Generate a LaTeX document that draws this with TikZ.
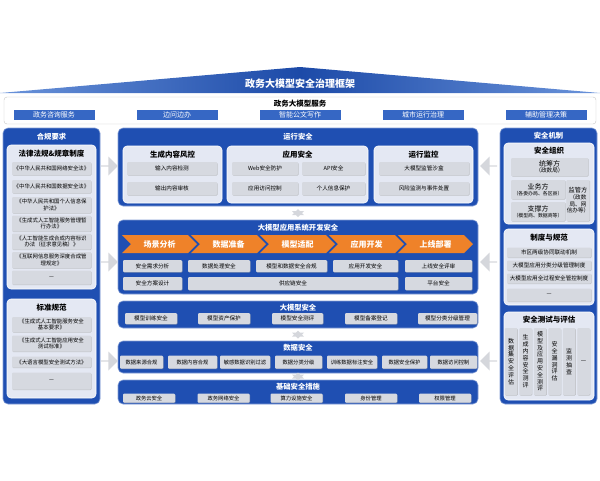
\documentclass[tikz,border=0pt]{standalone}
\usepackage{fontspec}
\setmainfont{Noto Sans CJK SC}
\usepackage{xcolor}
\usetikzlibrary{shapes.arrows,shapes.symbols,shadows}

\definecolor{panelblue}{HTML}{1F4FB2}
\definecolor{roofmid}{HTML}{1C4AA8}
\definecolor{roofside}{HTML}{6A93DA}
\definecolor{boxlight}{HTML}{E4E8F3}
\definecolor{itemgray}{HTML}{D6D9E0}
\definecolor{btnblue}{HTML}{3667C4}
\definecolor{chevorange}{HTML}{EF8229}
\definecolor{arrowgray}{HTML}{D5D7DC}

\tikzset{
  panel/.style={fill=panelblue,draw=panelblue!55!white,line width=0.6pt,rounded corners=5pt},
  inbox/.style={fill=boxlight,draw=white,line width=0.6pt,rounded corners=4pt},
  item/.style={fill=itemgray,rounded corners=1pt,inner sep=0.5pt,align=center,
    font=\fontsize{5.6}{6.6}\selectfont,
    drop shadow={shadow xshift=0.5pt,shadow yshift=-0.5pt,fill=gray!70,opacity=0.6}},
  head/.style={text=white,font=\fontsize{7.3}{8}\selectfont\bfseries},
  sub/.style={font=\fontsize{7.5}{8}\selectfont\bfseries},
  btn/.style={fill=btnblue,text=white,minimum width=81pt,minimum height=10pt,inner sep=0pt,
    font=\fontsize{7}{7.5}\selectfont},
  chev/.style={signal,signal from=west,signal to=east,fill=chevorange,text=white,
    minimum width=75pt,minimum height=18pt,inner sep=0pt,font=\fontsize{8}{9}\selectfont\bfseries},
  rarr/.style={single arrow,fill=arrowgray,minimum height=17pt,minimum width=19pt,
    single arrow head extend=3pt,inner sep=0pt},
  larr/.style={rarr,shape border rotate=180},
  varr/.style={double arrow,fill=arrowgray,shape border rotate=90,minimum height=8pt,
    minimum width=12pt,double arrow head extend=2pt,inner sep=0pt}
}

\begin{document}
\begin{tikzpicture}[x=1pt,y=-1pt]
  \useasboundingbox (0,0) rectangle (600,480);
  % title and services
  \shade[left color=roofside,right color=roofside,middle color=roofmid] (0,93) -- (300,67) -- (600,93) -- cycle;
  \node[head,font=\fontsize{10}{11}\selectfont\bfseries] (title) at (300,84) {政务大模型安全治理框架};
  \draw[gray!45,fill=white,rounded corners=3pt] (4,97) rectangle (596,124);
  \node[sub] (svc) at (300,104) {政务大模型服务};
  \foreach \n/\x/\t in {1/54/政务咨询服务,2/177/边问边办,3/300/智能公文写作,4/423/城市运行治理,5/546/辅助管理决策}
    \node[btn] (svc\n) at (\x,115) {\t};

  % left: compliance
  \path[panel] (3,128) rectangle (100,404);
  \node[head] (comp) at (51.5,137) {合规要求};
  \path[inbox] (7,145) rectangle (96,289);
  \node[sub] (law) at (51.5,154) {法律法规\&规章制度};
  \foreach \n/\y/\h/\t in {1/168.5/13/{《中华人民共和国网络安全法》},2/186.5/13/{《中华人民共和国数据安全法》},
      3/205/16/{《中华人民共和国个人信息保\\护法》},4/223.5/16/{《生成式人工智能服务管理暂\\行办法》},
      5/241.5/16/{《人工智能生成合成内容标识\\办法（征求意见稿）》},6/260/16/{《互联网信息服务深度合成管\\理规定》},
      7/277.5/14/{—}}
    \node[item,minimum width=79pt,minimum height=\h pt,font=\fontsize{5.4}{6.4}\selectfont] (law\n) at (51.5,\y) {\t};
  \path[inbox] (7,299) rectangle (96,398);
  \node[sub] (std) at (51.5,308) {标准规范};
  \foreach \n/\y/\h/\t in {1/324.5/15/{《生成式人工智能服务安全\\基本要求》},2/343.5/16/{《生成式人工智能应用安全\\测试标准》},
      3/362/11/{《大语言模型安全测试方法》},4/381/17/{—}}
    \node[item,minimum width=79pt,minimum height=\h pt,font=\fontsize{5.4}{6.4}\selectfont] (std\n) at (51.5,\y) {\t};

  % center: runtime security
  \path[panel] (118,128) rectangle (478,206);
  \node[head] (run) at (298,137) {运行安全};
  \path[inbox] (123,146) rectangle (222,203);
  \node[sub] (risk) at (172.5,155) {生成内容风控};
  \node[item,minimum width=90pt,minimum height=13pt] (risk1) at (172,168.5) {输入内容检测};
  \node[item,minimum width=90pt,minimum height=13pt] (risk2) at (172,188.5) {输出内容审核};
  \path[inbox] (227,146) rectangle (368,203);
  \node[sub] (app) at (297.5,155) {应用安全};
  \node[item,minimum width=66pt,minimum height=13pt] (app1) at (265,168.5) {Web安全防护};
  \node[item,minimum width=63pt,minimum height=13pt] (app2) at (333.5,168.5) {API安全};
  \node[item,minimum width=66pt,minimum height=13pt] (app3) at (265,188.5) {应用访问控制};
  \node[item,minimum width=63pt,minimum height=13pt] (app4) at (333.5,188.5) {个人信息保护};
  \path[inbox] (374,146) rectangle (473,203);
  \node[sub] (mon) at (423.5,155) {运行监控};
  \node[item,minimum width=90pt,minimum height=13pt] (mon1) at (424,168.5) {大模型监管沙盒};
  \node[item,minimum width=90pt,minimum height=13pt] (mon2) at (424,188.5) {风险监测与事件处置};

  % center: development
  \path[panel] (118,220) rectangle (478,294);
  \node[head] (dev) at (298,228) {大模型应用系统开发安全};
  \foreach \n/\x/\t in {1/159.5/场景分析,2/228.5/数据准备,3/297.5/模型适配,4/366.5/应用开发,5/435.5/上线部署}
    \node[chev] (stage\n) at (\x,244) {\t};
  \foreach \n/\x/\w/\t in {1/152.5/59/安全需求分析,2/219/62/数据处理安全,3/291.5/71/模型和数据安全合规,4/365.5/65/应用开发安全,5/438.5/67/上线安全评审}
    \node[item,minimum width=\w pt,minimum height=12pt] (dev\n) at (\x,266) {\t};
  \node[item,minimum width=59pt,minimum height=13pt] (plan) at (152.5,283.5) {安全方案设计};
  \node[item,minimum width=210pt,minimum height=13pt] (chain) at (293,283.5) {供应链安全};
  \node[item,minimum width=67pt,minimum height=13pt] (plat) at (438.5,283.5) {平台安全};

  % center: model, data, base
  \path[panel] (118,301) rectangle (478,328);
  \node[head] (model) at (298,308) {大模型安全};
  \foreach \n/\x/\w/\t in {1/151/52/模型训练安全,2/224/52/模型资产保护,3/297.5/51/模型安全测评,4/371/52/模型备案登记,5/447.5/59/模型分类分级管理}
    \node[item,minimum width=\w pt,minimum height=11pt] (model\n) at (\x,318.5) {\t};
  \path[panel] (118,341) rectangle (478,373);
  \node[head] (data) at (298,348) {数据安全};
  \foreach \n/\x/\w/\t in {1/141.5/43/数据来源合规,2/192.5/49/数据内容合规,3/245/50/敏感数据识别过滤,4/298.5/47/数据分类分级,5/352/50/训练数据标注安全,6/404.5/45/数据安全保护,7/453.5/47/数据访问控制}
    \node[item,minimum width=\w pt,minimum height=13pt,font=\fontsize{5.3}{6}\selectfont] (data\n) at (\x,362) {\t};
  \path[panel] (118,380) rectangle (478,404);
  \node[head] (base) at (298,387) {基础安全措施};
  \foreach \n/\x/\t in {1/149/政务云安全,2/223.5/政务网络安全,3/296.5/算力设施安全,4/371/身份管理,5/445/权限管理}
    \node[item,minimum width=52pt,minimum height=9pt,font=\fontsize{5.3}{6}\selectfont] (base\n) at (\x,398) {\t};

  % right: mechanisms
  \path[panel] (500,128) rectangle (597,404);
  \node[head] (mech) at (548.5,136) {安全机制};
  \path[inbox] (504,143) rectangle (594,224);
  \node[sub] (org) at (549,151) {安全组织};
  \node[item,minimum width=77pt,minimum height=18pt] (org1) at (549.5,167) {{\fontsize{7}{8}\selectfont 统筹方}\\（政数局）};
  \node[item,minimum width=54pt,minimum height=19pt,font=\fontsize{4.9}{6}\selectfont] (org2) at (538,189.5) {{\fontsize{7}{8}\selectfont 业务方}\\（各委办局、各区县）};
  \node[item,minimum width=54pt,minimum height=19pt,font=\fontsize{4.9}{6}\selectfont] (org3) at (538,211.5) {{\fontsize{7}{8}\selectfont 支撑方}\\（模型商、数据商等）};
  \node[item,minimum width=20pt,minimum height=41pt] (org4) at (578,200.5) {{\fontsize{6.2}{7.5}\selectfont 监管方}\\（政数\\局、网\\信办等）};
  \path[inbox] (504,229) rectangle (594,305);
  \node[sub] (rule) at (549,238) {制度与规范};
  \foreach \n/\y/\h/\t in {1/252.5/10/市区两级协同联动机制,2/265.5/10/大模型应用分类分级管理制度,3/278.5/10/大模型应用全过程安全管控制度,4/295/13/—}
    \node[item,minimum width=84pt,minimum height=\h pt] (rule\n) at (549,\y) {\t};
  \path[inbox] (504,312) rectangle (594,400);
  \node[sub] (eval) at (549,320) {安全测试与评估};
  \foreach \n/\x/\t in {1/511/{数\\据\\集\\安\\全\\评\\估},2/525.5/{生\\成\\内\\容\\安\\全\\测\\评},3/540/{模\\型\\及\\应\\用\\安\\全\\测\\评},
      4/554.5/{安\\全\\漏\\洞\\评\\估},5/569/{监\\测\\抽\\查},6/583.5/{—}}
    \node[item,minimum width=12.5pt,minimum height=67pt,font=\fontsize{6}{6.8}\selectfont] (eval\n) at (\x,361.5) {\t};

  % arrows between columns and layers
  \foreach \n/\y in {1/166,2/262,3/361} {
    \node[rarr] (la\n) at (109,\y) {};
    \node[larr] (ra\n) at (489,\y) {};
  }
  \foreach \n/\y in {1/213,2/334.5,3/376.5}
    \node[varr] (va\n) at (298,\y) {};
\end{tikzpicture}
\end{document}
